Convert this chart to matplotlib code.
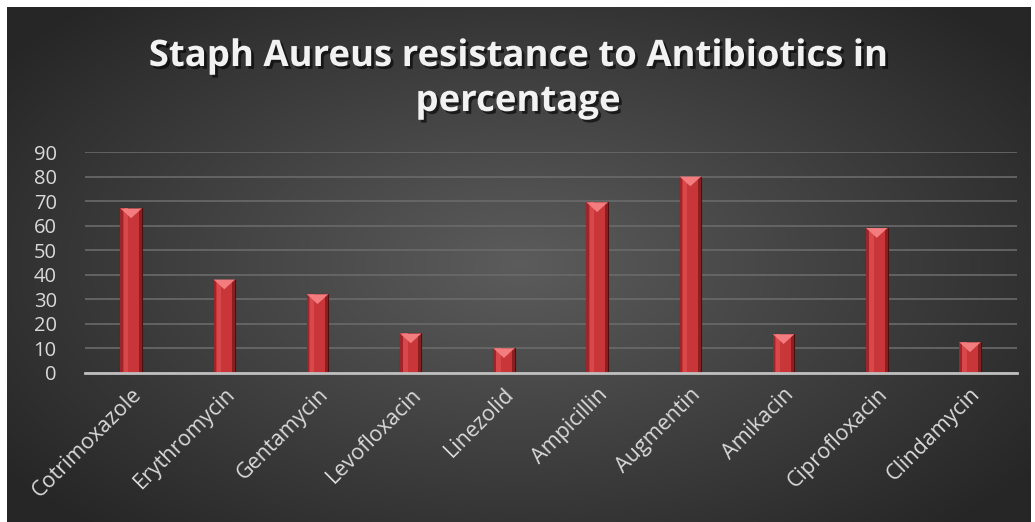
import numpy as np
import matplotlib.pyplot as plt
import matplotlib.patheffects as pe
import matplotlib.transforms as mtransforms

antibiotics = ["Cotrimoxazole", "Erythromycin", "Gentamycin", "Levofloxacin", "Linezolid",
               "Ampicillin", "Augmentin", "Amikacin", "Ciprofloxacin", "Clindamycin"]
resistance = [67, 38, 32, 16, 10, 69.5, 80, 15.7, 59, 12.4]
yticks = list(range(0, 91, 10))

W, H = 1035, 522
fig = plt.figure(figsize=(W / 100, H / 100), dpi=100, facecolor="white")

# dark radial-gradient chart area
bg = fig.add_axes([7 / W, 0, (1031 - 7) / W, (H - 7) / H])
bg.set_axis_off()
yy, xx = np.mgrid[-1:1:300j, -1:1:600j]
r = np.sqrt((xx / 1.0) ** 2 + (yy / 1.1) ** 2)
r = np.clip(r, 0, 1.25) / 1.25
shade = 0.36 - 0.21 * r
img = np.dstack([shade, shade, shade])
bg.imshow(img, aspect="auto", extent=[0, 1, 0, 1], interpolation="bilinear")
bg.set_xlim(0, 1)
bg.set_ylim(0, 1)

font = "Open Sans"
ax = fig.add_axes([84.5 / W, (H - 372.7) / H, (1016.6 - 84.5) / W, (372.7 - 152) / H])
ax.patch.set_alpha(0)
x = np.arange(len(antibiotics))
bars = ax.bar(x, resistance, width=0.23, color="#c8363a", edgecolor="#4a1012",
              linewidth=0.8, zorder=3)
# bevel look on bars
for b in bars:
    bx, bw, bh = b.get_x(), b.get_width(), b.get_height()
    cap = min(bh * 0.45, 4.0)
    ax.fill([bx + bw * 0.15, bx + bw * 0.35, bx + bw * 0.35, bx + bw * 0.15], [0, 0, bh, bh],
            color="#d8474a", zorder=4, lw=0)
    ax.fill([bx, bx + bw * 0.12, bx + bw * 0.12, bx], [0, 0, bh, bh], color="#9e2529", zorder=4, lw=0)
    ax.fill([bx + bw * 0.86, bx + bw, bx + bw, bx + bw * 0.86], [0, 0, bh, bh], color="#8a1f22", zorder=4, lw=0)
    ax.fill([bx, bx + bw, bx + bw / 2], [bh, bh, bh - cap], color="#f27c7e", zorder=5, lw=0)

ax.set_xlim(-0.5, len(antibiotics) - 0.5)
ax.set_ylim(0, 90)
ax.set_yticks(yticks)
ax.set_yticklabels([str(v) for v in yticks], fontsize=14.5, color="#d9d9d9", family=font)
ax.yaxis.grid(True, color="#6a6a6a", linewidth=1.2, zorder=0)
ax.set_axisbelow(True)
ax.set_xticks(x)
ax.set_xticklabels(antibiotics, rotation=45, ha="right", rotation_mode="anchor",
                   fontsize=15.5, color="#d9d9d9", family=font)
shift = mtransforms.ScaledTranslation(8 / 100, 0, fig.dpi_scale_trans)
for lab in ax.get_xticklabels():
    lab.set_transform(lab.get_transform() + shift)
ax.tick_params(axis="both", length=0)
ax.tick_params(axis="x", pad=8)
ax.tick_params(axis="y", pad=20)
for s in ["top", "right", "left"]:
    ax.spines[s].set_visible(False)
ax.spines["bottom"].set_color("#bfbfbf")
ax.spines["bottom"].set_linewidth(2)
ax.spines["bottom"].set_zorder(6)

shadow = [pe.withSimplePatchShadow(offset=(2, -2), shadow_rgbFace="black", alpha=0.6)]
fig.text(518 / W, 1 - 56 / H, "Staph Aureus resistance to Antibiotics in", ha="center", va="center",
         fontsize=26.3, fontweight="bold", color="#f2f2f2", family=font, path_effects=shadow)
fig.text(518 / W, 1 - 101 / H, "percentage", ha="center", va="center",
         fontsize=26.3, fontweight="bold", color="#f2f2f2", family=font, path_effects=shadow)

fig.savefig("out.png", dpi=100, facecolor="white")
